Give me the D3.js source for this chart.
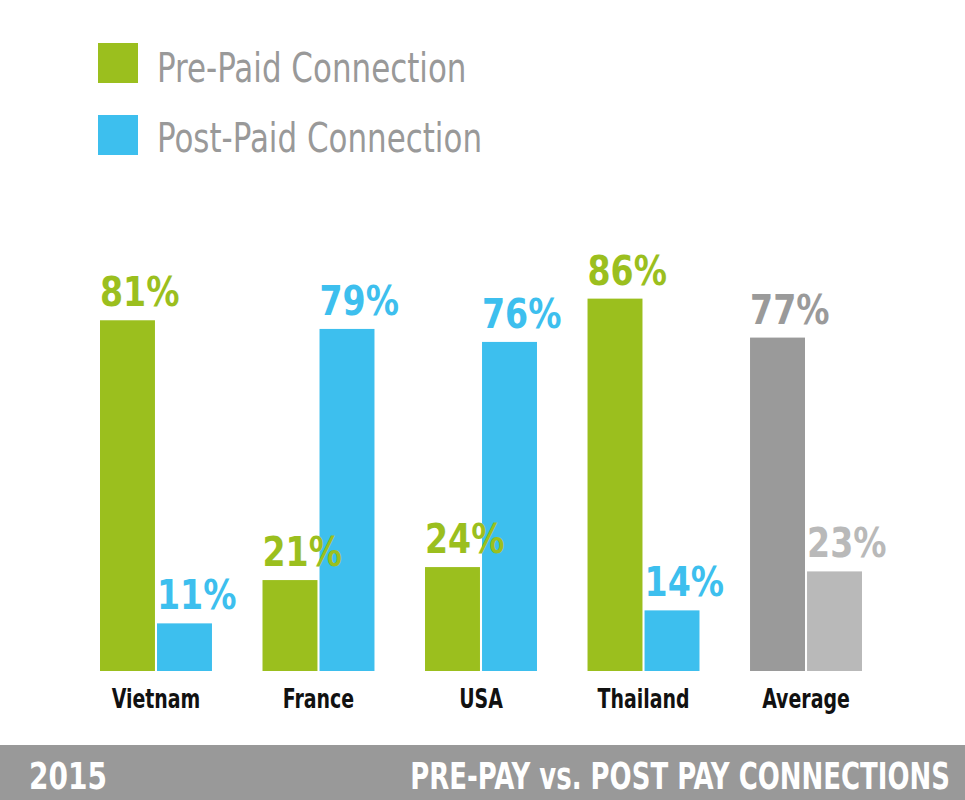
<!DOCTYPE html>
<html><head><meta charset="utf-8">
<script src="https://cdn.jsdelivr.net/npm/d3@7"></script>
<style>body{margin:0;background:#fff}svg{display:block}</style>
</head><body>
<script>
const categories = ["Vietnam","France","USA","Thailand","Average"];
const prePaid = [81,21,24,86,77];
const postPaid = [11,79,76,14,23];
const seriesNames = ["Pre-Paid Connection","Post-Paid Connection"];
const yearLabel = "2015";
const titleText = "PRE-PAY vs. POST PAY CONNECTIONS";

const W=965,H=800;
const svg=d3.select("body").append("svg").attr("width",W).attr("height",H);
const cond="'DejaVu Sans Condensed','DejaVu Sans',sans-serif";

const x=d3.scaleBand().domain(categories).range([100,862]).paddingInner(0.311).paddingOuter(0);
const xs=d3.scaleBand().domain(["pre","post"]).range([0,x.bandwidth()]).paddingInner(0.036);
const y=d3.scaleLinear().domain([0,100]).range([671,238]);

const colors={pre:"#9bbf1e",post:"#3dbfee"};
const avgColors={pre:"#9a9a9a",post:"#b9b9b9"};

const data=categories.map((c,i)=>({c,vals:[{k:"pre",v:prePaid[i]},{k:"post",v:postPaid[i]}]}));
const g=svg.selectAll("g.grp").data(data).join("g").attr("class","grp").attr("transform",d=>`translate(${x(d.c)},0)`);
g.selectAll("rect").data(d=>d.vals.map(v=>({...v,c:d.c}))).join("rect")
 .attr("x",d=>xs(d.k)).attr("width",xs.bandwidth())
 .attr("y",d=>y(d.v)).attr("height",d=>y(0)-y(d.v))
 .attr("fill",d=>d.c==="Average"?avgColors[d.k]:colors[d.k]);
g.selectAll("text.val").data(d=>d.vals.map(v=>({...v,c:d.c}))).join("text").attr("class","val")
 .attr("transform",d=>`translate(${xs(d.k)},${y(d.v)-14}) scale(0.9,1)`)
 .attr("font-family",cond).attr("font-weight","bold").attr("font-size",41)
 .attr("fill",d=>d.c==="Average"?avgColors[d.k]:colors[d.k])
 .text(d=>d.v+"%");

svg.append("g").selectAll("text").data(categories).join("text")
 .attr("transform",d=>`translate(${x(d)+x.bandwidth()/2},708) scale(0.78,1)`).attr("text-anchor","middle")
 .attr("font-family",cond).attr("font-weight","bold").attr("font-size",27).attr("fill","#111")
 .text(d=>d);

// legend
const leg=svg.append("g");
seriesNames.forEach((s,i)=>{
  const k=i===0?"pre":"post";
  leg.append("rect").attr("x",98).attr("y",43+i*72).attr("width",40).attr("height",40).attr("fill",colors[k]);
  leg.append("text").attr("transform",`translate(157,${82+i*70}) scale(0.86,1)`).attr("font-family",cond).attr("font-size",40).attr("fill","#999").text(s);
});

// banner
svg.append("rect").attr("x",0).attr("y",745).attr("width",W).attr("height",55).attr("fill","#999");
svg.append("text").attr("transform","translate(29,789) scale(0.82,1)").attr("font-family",cond).attr("font-weight","bold").attr("font-size",38).attr("fill","#fff").text(yearLabel);
svg.append("text").attr("transform","translate(950,789) scale(0.76,1)").attr("text-anchor","end").attr("font-family",cond).attr("font-weight","bold").attr("font-size",38).attr("fill","#fff").text(titleText);
</script>
</body></html>
